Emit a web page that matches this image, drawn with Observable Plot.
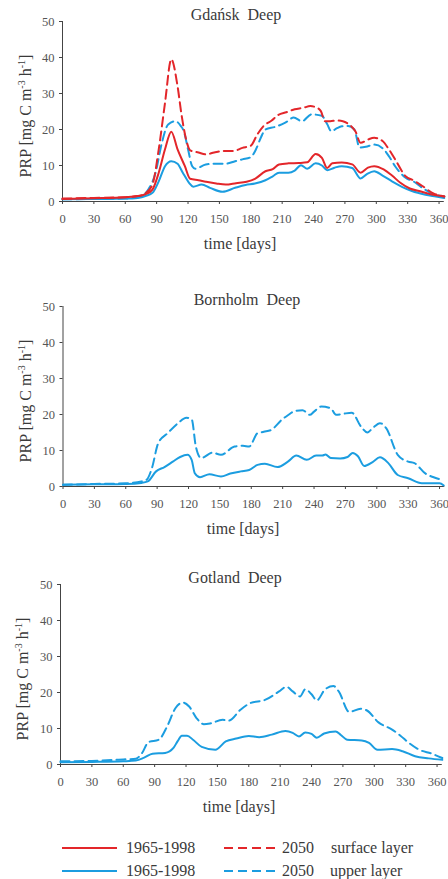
<!DOCTYPE html>
<html>
<head>
<meta charset="utf-8">
<script src="https://cdn.jsdelivr.net/npm/d3@7"></script>
<script src="https://cdn.jsdelivr.net/npm/@observablehq/plot@0.6"></script>
<style>
  body { margin: 0; background: #fff; }
  #chart { position: relative; width: 448px; height: 879px; font-family: "Liberation Serif", "Times New Roman", serif; color: #3a3a3a; overflow: hidden; }
  .panel { position: absolute; left: 0; }
  .txt { position: absolute; font-size: 16px; line-height: 16px; white-space: pre; font-weight: normal; }
  .center { transform: translateX(-50%); }
  .ylabel { position: absolute; font-size: 16px; line-height: 16px; white-space: nowrap; transform: translate(-50%, -50%) rotate(-90deg); }
  .ylabel sup { font-size: 10px; vertical-align: 0; position: relative; top: -6px; }
  .swatch { position: absolute; }
</style>
</head>
<body>
<div id="chart"></div>
<script>
// Axis ticks
const xTicks = [0, 30, 60, 90, 120, 150, 180, 210, 240, 270, 300, 330, 360];
const yTicks = [0, 10, 20, 30, 40, 50];

const RED = "#e3262a";
const BLUE = "#1b9de0";
const FONT = "'Liberation Serif', 'Times New Roman', serif";

// Gdańsk Deep — surface layer
const gdSurfPastDay = [0, 30, 60, 72, 80, 86, 92, 98, 104, 110, 117, 122, 130, 137, 147, 156, 166, 176, 184, 194, 201, 207, 216, 226, 234, 242, 248, 253, 258, 267, 277, 285, 292, 298, 307, 315, 323, 332, 341, 352, 365];
const gdSurfPast = [0.7, 0.9, 1.2, 1.5, 2.1, 3.3, 8.0, 14.5, 19.4, 14.5, 9.8, 6.3, 5.9, 5.5, 5.0, 4.7, 5.1, 5.5, 6.3, 8.4, 9.0, 10.3, 10.6, 10.7, 10.9, 13.2, 12.1, 9.3, 10.6, 10.8, 10.3, 8.0, 9.4, 9.8, 8.9, 7.2, 5.2, 3.6, 2.9, 2.0, 1.4];
const gdSurf2050Day = [0, 30, 60, 72, 79, 86, 92, 98, 104, 110, 114, 119, 122, 130, 137, 145, 153, 163, 172, 180, 186, 192, 200, 206, 214, 222, 230, 237, 242, 247, 251, 256, 262, 268, 274, 280, 285, 292, 298, 306, 312, 318, 328, 336, 344, 355, 365];
const gdSurf2050 = [0.8, 1.0, 1.2, 1.5, 2.2, 4.7, 14.5, 27.4, 39.5, 32.0, 23.7, 16.3, 14.2, 13.6, 13.1, 13.6, 14.0, 14.0, 14.9, 15.5, 18.5, 20.9, 22.5, 24.0, 24.8, 25.6, 26.0, 26.5, 26.2, 25.1, 22.3, 22.3, 22.5, 22.3, 21.4, 19.5, 16.3, 17.2, 17.7, 16.8, 14.5, 11.7, 7.0, 5.8, 4.3, 2.2, 1.4];

// Gdańsk Deep — upper layer
const gdUpPastDay = [0, 30, 60, 72, 80, 86, 92, 98, 104, 110, 115, 121, 125, 133, 141, 153, 165, 175, 184, 194, 201, 207, 216, 222, 228, 234, 242, 248, 253, 260, 267, 277, 285, 291, 298, 306, 315, 325, 334, 347, 357, 365];
const gdUpPast = [0.6, 0.7, 0.8, 1.0, 1.6, 2.4, 5.6, 9.8, 11.2, 10.5, 8.0, 5.2, 4.1, 4.7, 3.8, 2.7, 3.8, 4.6, 5.0, 5.9, 7.0, 8.0, 8.0, 8.6, 10.1, 9.1, 10.6, 10.0, 8.7, 9.4, 9.8, 9.3, 6.4, 7.6, 8.4, 7.2, 5.6, 4.0, 2.9, 1.9, 1.4, 1.0];
const gdUp2050Day = [0, 30, 60, 75, 82, 89, 95, 101, 108, 113, 116, 120, 124, 127, 137, 146, 156, 165, 172, 180, 185, 190, 194, 203, 213, 221, 229, 238, 248, 253, 257, 262, 267, 273, 279, 284, 290, 298, 306, 312, 318, 328, 336, 344, 355, 365];
const gdUp2050 = [0.6, 0.7, 0.8, 1.5, 3.3, 8.0, 16.3, 21.4, 22.3, 21.0, 19.5, 14.5, 9.8, 9.1, 10.3, 10.5, 10.5, 11.2, 11.7, 12.3, 14.5, 18.0, 20.0, 20.7, 21.9, 23.3, 22.3, 24.2, 23.8, 21.5, 19.5, 20.3, 20.9, 21.0, 20.0, 15.0, 15.2, 15.8, 14.8, 12.6, 9.8, 6.6, 5.5, 3.8, 2.0, 1.4];

// Bornholm Deep — upper layer
const bhUpPastDay = [0, 30, 60, 75, 81, 89, 97, 105, 112, 119, 123, 126, 131, 140, 151, 160, 170, 178, 186, 193, 205, 215, 223, 233, 242, 248, 251, 256, 265, 272, 277, 282, 288, 296, 303, 311, 320, 330, 343, 352, 360, 364];
const bhUpPast = [0.5, 0.6, 0.7, 1.0, 1.4, 4.2, 5.4, 6.9, 8.2, 8.8, 7.4, 3.7, 2.6, 3.4, 2.8, 3.6, 4.2, 4.6, 6.0, 6.3, 5.4, 6.9, 8.6, 7.4, 8.6, 8.6, 8.9, 7.9, 7.8, 8.2, 9.3, 8.4, 5.7, 6.8, 8.1, 6.5, 3.2, 2.3, 0.9, 0.9, 0.9, 0.3];
const bhUp2050Day = [0, 30, 60, 75, 80, 85, 91, 100, 110, 118, 123, 127, 132, 143, 151, 164, 172, 178, 186, 192, 199, 209, 215, 222, 229, 236, 240, 247, 256, 261, 268, 276, 285, 291, 296, 303, 309, 320, 330, 336, 346, 355, 363];
const bhUp2050 = [0.5, 0.7, 0.9, 1.4, 1.9, 5.1, 12.0, 14.8, 17.6, 19.1, 18.7, 11.1, 7.9, 9.4, 8.8, 11.1, 11.3, 11.1, 14.8, 15.2, 15.7, 18.5, 19.8, 21.0, 21.2, 19.9, 20.8, 22.2, 21.7, 19.9, 20.2, 20.5, 16.6, 15.0, 16.2, 17.6, 16.2, 8.8, 6.9, 6.5, 3.7, 2.5, 1.8];

// Gotland Deep — upper layer
const gtUpPastDay = [0, 30, 60, 72, 80, 88, 100, 108, 112, 116, 121, 127, 135, 148, 158, 168, 180, 190, 202, 215, 222, 228, 234, 240, 245, 252, 263, 268, 274, 288, 295, 303, 317, 327, 339, 352, 365];
const gtUpPast = [0.6, 0.7, 0.9, 1.1, 1.9, 3.0, 3.2, 4.6, 6.5, 8.0, 8.0, 6.8, 4.9, 4.1, 6.4, 7.2, 7.9, 7.6, 8.3, 9.3, 8.8, 7.8, 8.9, 8.5, 7.4, 8.6, 9.2, 8.2, 6.9, 6.7, 6.0, 4.1, 4.3, 3.7, 2.3, 1.7, 1.3];
const gtUp2050Day = [0, 30, 60, 72, 78, 84, 94, 102, 110, 117, 123, 130, 137, 143, 155, 161, 172, 181, 196, 209, 216, 222, 229, 234, 240, 245, 253, 261, 266, 276, 287, 293, 304, 317, 325, 333, 343, 355, 365];
const gtUp2050 = [0.9, 1.0, 1.4, 1.6, 3.2, 6.2, 6.9, 10.6, 15.7, 17.2, 16.1, 12.9, 11.2, 11.4, 12.4, 12.2, 15.2, 17.0, 18.0, 20.3, 21.6, 20.3, 18.9, 20.9, 19.5, 17.8, 20.9, 21.8, 20.3, 14.6, 15.5, 15.0, 11.7, 9.7, 8.0, 6.0, 4.1, 3.0, 1.8];

const panels = [
  {
    title: "Gdańsk  Deep", top: 0, marginLeft: 62, titleX: 236, xLabelX: 240, yLabelX: 27,
    series: [
      {day: gdUpPastDay, val: gdUpPast, color: BLUE, dash: null},
      {day: gdUp2050Day, val: gdUp2050, color: BLUE, dash: "9,5"},
      {day: gdSurfPastDay, val: gdSurfPast, color: RED, dash: null},
      {day: gdSurf2050Day, val: gdSurf2050, color: RED, dash: "9,5"}
    ]
  },
  {
    title: "Bornholm  Deep", top: 285, marginLeft: 62.5, titleX: 247, xLabelX: 243, yLabelX: 27,
    series: [
      {day: bhUpPastDay, val: bhUpPast, color: BLUE, dash: null},
      {day: bhUp2050Day, val: bhUp2050, color: BLUE, dash: "9,5"}
    ]
  },
  {
    title: "Gotland  Deep", top: 563, marginLeft: 60, titleX: 235, xLabelX: 239, yLabelX: 24,
    series: [
      {day: gtUpPastDay, val: gtUpPast, color: BLUE, dash: null},
      {day: gtUp2050Day, val: gtUp2050, color: BLUE, dash: "9,5"}
    ]
  }
];

const root = document.getElementById("chart");
const MT = 21, FRAME = 180, MB = 30;
const PX_PER_DAY = 1.046;

function addText(html, left, top, cls) {
  const d = document.createElement("div");
  d.className = cls;
  d.style.left = left + "px";
  d.style.top = top + "px";
  d.innerHTML = html;
  root.appendChild(d);
  return d;
}

for (const p of panels) {
  const marginRight = 448 - p.marginLeft - 365 * PX_PER_DAY;
  const svg = Plot.plot({
    width: 448,
    height: MT + FRAME + MB,
    marginTop: MT,
    marginBottom: MB,
    marginLeft: p.marginLeft,
    marginRight,
    x: {domain: [0, 365]},
    y: {domain: [0, 50]},
    style: {fontFamily: FONT, background: "transparent", overflow: "visible"},
    marks: [
      Plot.axisX({ticks: xTicks, tickSize: 3, tickPadding: 10, fontSize: 12.5, label: null, stroke: "#444", fill: "#555"}),
      Plot.axisY({ticks: yTicks, tickSize: 3, tickPadding: 5, fontSize: 12.5, label: null, stroke: "#444", fill: "#555"}),
      Plot.ruleY([0], {stroke: "#444"}),
      Plot.ruleX([0], {stroke: "#444"}),
      ...p.series.map(s => Plot.line(s.val, {
        x: s.day, y: s.val, stroke: s.color, strokeWidth: 2,
        strokeDasharray: s.dash, curve: "monotone-x"
      }))
    ]
  });
  const wrap = document.createElement("div");
  wrap.className = "panel";
  wrap.style.top = p.top + "px";
  wrap.appendChild(svg);
  root.appendChild(wrap);

  const frameTop = p.top + MT;
  const frameBottom = frameTop + FRAME;
  addText(p.title, p.titleX, frameTop - 14, "txt center");
  addText("time [days]", p.xLabelX, frameBottom + 35, "txt center");
  addText("PRP [mg C m<sup>-3</sup> h<sup>-1</sup>]", p.yLabelX, frameTop + FRAME / 2 + 5, "ylabel");
}

// Legend
const legendRows = [
  {y: 848, color: RED, past: "1965-1998", future: "2050", layer: "surface layer", layerX: 331},
  {y: 871, color: BLUE, past: "1965-1998", future: "2050", layer: "upper layer", layerX: 330}
];
for (const r of legendRows) {
  const s = document.createElementNS("http://www.w3.org/2000/svg", "svg");
  s.setAttribute("class", "swatch");
  s.setAttribute("width", 448);
  s.setAttribute("height", 6);
  s.style.left = "0px";
  s.style.top = (r.y - 3) + "px";
  s.innerHTML =
    `<line x1="62" x2="117" y1="3" y2="3" stroke="${r.color}" stroke-width="2"/>` +
    `<line x1="224" x2="280" y1="3" y2="3" stroke="${r.color}" stroke-width="2" stroke-dasharray="9,5"/>`;
  root.appendChild(s);
  addText(r.past, 126, r.y - 8, "txt");
  addText(r.future, 282, r.y - 8, "txt");
  addText(r.layer, r.layerX, r.y - 8, "txt");
}
</script>
</body>
</html>
